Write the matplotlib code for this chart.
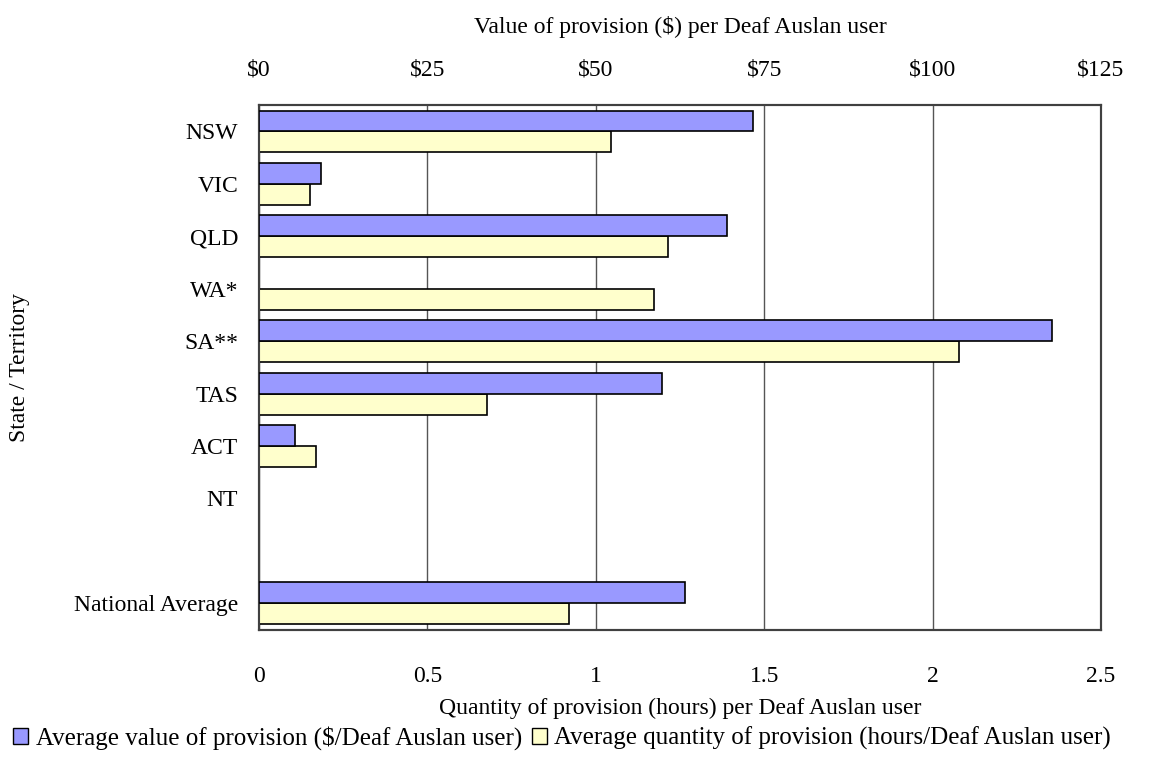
import numpy as np
import matplotlib
matplotlib.use("Agg")
import matplotlib.pyplot as plt
from matplotlib.patches import Patch

plt.rcParams['font.family'] = ['Liberation Serif', 'DejaVu Serif']
plt.rcParams['font.size'] = 17

# categories (the empty string keeps the gap before the national average)
states = ["NSW", "VIC", "QLD", "WA*", "SA**", "TAS", "ACT", "NT", "", "National Average"]
# average value of provision, $ per Deaf Auslan user (top axis)
value_dollars = [73.3, 9.25, 69.4, np.nan, 117.7, 59.8, 5.4, np.nan, np.nan, 63.3]
# average quantity of provision, hours per Deaf Auslan user (bottom axis)
quantity_hours = [1.045, 0.151, 1.213, 1.174, 2.077, 0.678, 0.169, np.nan, np.nan, 0.920]

hour_ticks = [0, 0.5, 1, 1.5, 2, 2.5]
hour_labels = ["0", "0.5", "1", "1.5", "2", "2.5"]
dollar_ticks = [0, 25, 50, 75, 100, 125]
dollar_labels = ["$0", "$25", "$50", "$75", "$100", "$125"]

blue = "#9999FF"
yellow = "#FFFFCC"
frame = "#404040"

fig = plt.figure(figsize=(11.57, 7.58), dpi=100)
ax = fig.add_axes([0.2239, 0.1695, 0.7277, 0.6916])
ax_top = ax.twiny()

y = np.arange(len(states))
h = 0.4

ax.barh(y + h / 2, quantity_hours, height=h, color=yellow,
        edgecolor="black", linewidth=1.2, zorder=3)
ax_top.barh(y - h / 2, value_dollars, height=h, color=blue,
            edgecolor="black", linewidth=1.2, zorder=3)

ax.set_xlim(0, 2.5)
ax_top.set_xlim(0, 125)
ax.set_ylim(len(states) - 0.5, -0.5)
ax_top.set_ylim(len(states) - 0.5, -0.5)

ax.set_xticks(hour_ticks)
ax.set_xticklabels(hour_labels)
ax_top.set_xticks(dollar_ticks)
ax_top.set_xticklabels(dollar_labels)
ax.set_yticks(y)
ax.set_yticklabels(states)

ax.grid(axis="x", color="#555555", linewidth=1.0, zorder=0)
ax.set_axisbelow(True)

ax.tick_params(axis="x", length=0, pad=26)
ax_top.tick_params(axis="x", length=0, pad=18)
ax.tick_params(axis="y", length=0, pad=15)

for a in (ax, ax_top):
    for s in a.spines.values():
        s.set_color(frame)
        s.set_linewidth(1.5)

ax.set_xlabel("Quantity of provision (hours) per Deaf Auslan user", labelpad=8)
ax_top.set_xlabel("Value of provision ($) per Deaf Auslan user", labelpad=19)
ax.set_ylabel("State / Territory")
ax.yaxis.set_label_coords(-0.272, 0.5)

handles = [
    Patch(facecolor=blue, edgecolor="black", linewidth=1.0),
    Patch(facecolor=yellow, edgecolor="black", linewidth=1.0),
]
labels = [
    "Average value of provision ($/Deaf Auslan user)",
    "Average quantity of provision (hours/Deaf Auslan user)",
]
fig.legend(handles, labels, loc="lower left", bbox_to_anchor=(-0.006, -0.016),
           ncol=2, frameon=False, fontsize=18, handlelength=0.6, handleheight=0.6,
           handletextpad=0.3, columnspacing=0.4, borderpad=0.3)

fig.savefig("out.png", dpi=100)
